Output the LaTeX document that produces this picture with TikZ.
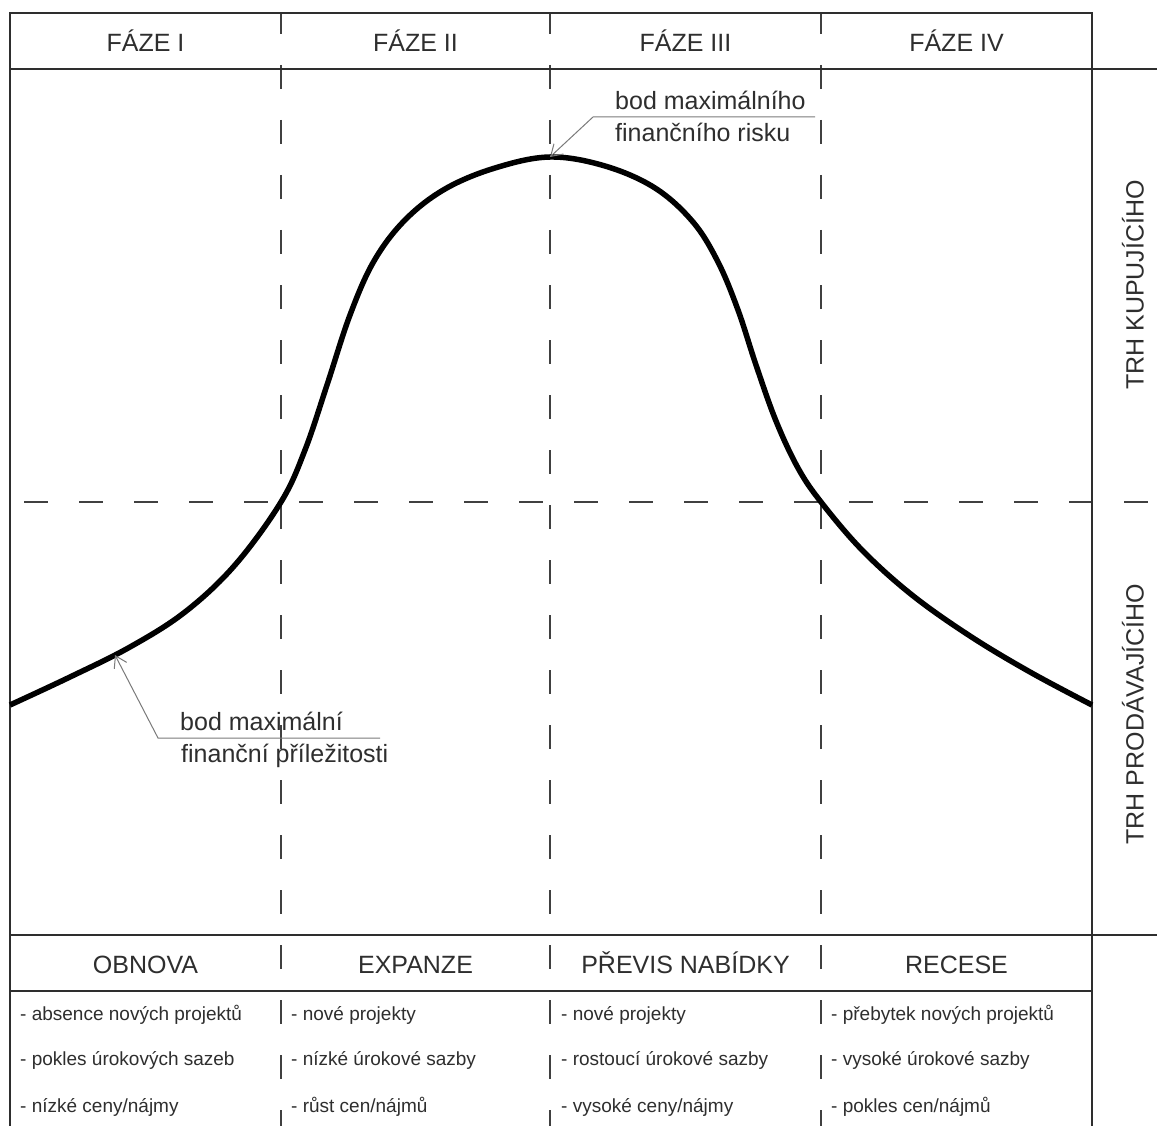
\documentclass[tikz,border=0pt]{standalone}
\usepackage{fontspec}
\setmainfont{Liberation Sans}
\usetikzlibrary{arrows.meta}
\definecolor{ink}{HTML}{2e2e2e}
\definecolor{dashc}{HTML}{404040}
\definecolor{leadc}{HTML}{7a7a7a}
\begin{document}
\begin{tikzpicture}[x=1pt,y=-1pt,
  frame/.style={draw=ink,line width=1.8pt},
  vdash/.style={draw=dashc,line width=1.6pt,dash pattern=on 24pt off 31pt,dash phase=3pt},
  hdash/.style={draw=dashc,line width=1.6pt,dash pattern=on 24pt off 31pt,dash phase=41pt},
  curve/.style={draw=black,line width=5.5pt,line join=round},
  lead/.style={draw=leadc,line width=1pt},
  big/.style={font=\fontsize{25}{30}\selectfont,text=ink,inner sep=0pt,anchor=base},
  side/.style={font=\fontsize{25}{30}\selectfont,text=ink,inner sep=0pt,rotate=90},
  item/.style={font=\fontsize{19}{22}\selectfont,text=ink,inner sep=0pt,anchor=base west},
  note/.style={font=\fontsize{25}{30}\selectfont,text=ink,inner sep=0pt,anchor=base west},
]
\useasboundingbox (0,0) rectangle (1157,1126);
\fill[white] (0,0) rectangle (1157,1126);

% dashed grid
\foreach \x in {281,550,821}{
  \draw[vdash] (\x,13) -- (\x,1126);
}
\draw[hdash] (10,502) -- (1157,502);

% frame
\draw[frame] (10,1126) -- (10,13) -- (1092,13) -- (1092,1126);
\draw[frame] (10,69) -- (1157,69);
\draw[frame] (10,935) -- (1157,935);
\draw[frame] (10,991) -- (1092,991);

% headers
\node[big] (f1) at (145.5,52) {FÁZE I};
\node[big] (f2) at (415.5,52) {FÁZE II};
\node[big] (f3) at (685.5,52) {FÁZE III};
\node[big] (f4) at (956.5,52) {FÁZE IV};

\node[big] (h1) at (145.5,973) {OBNOVA};
\node[big] (h2) at (415.5,973) {EXPANZE};
\node[big] (h3) at (685.5,973) {PŘEVIS NABÍDKY};
\node[big] (h4) at (956.5,973) {RECESE};

% lists
\node[item] (a1) at (20,1020) {- absence nových projektů};
\node[item] (a2) at (20,1065) {- pokles úrokových sazeb};
\node[item] (a3) at (20,1112) {- nízké ceny/nájmy};
\node[item] (b1) at (291,1020) {- nové projekty};
\node[item] (b2) at (291,1065) {- nízké úrokové sazby};
\node[item] (b3) at (291,1112) {- růst cen/nájmů};
\node[item] (c1) at (561,1020) {- nové projekty};
\node[item] (c2) at (561,1065) {- rostoucí úrokové sazby};
\node[item] (c3) at (561,1112) {- vysoké ceny/nájmy};
\node[item] (d1) at (831,1020) {- přebytek nových projektů};
\node[item] (d2) at (831,1065) {- vysoké úrokové sazby};
\node[item] (d3) at (831,1112) {- pokles cen/nájmů};

% side labels
\node[side] (s1) at (1133,285) {TRH KUPUJÍCÍHO};
\node[side] (s2) at (1133,714) {TRH PRODÁVAJÍCÍHO};

% curve
\draw[curve] plot[smooth,tension=0.6] coordinates {
 (10,705) (70,677) (130,647) (185,612) (235,565) (281,502)
 (305,450) (327,385) (350,315) (374,261) (405,220) (445,189) (495,168)
 (550,157) (605,166) (655,188) (693,222) (718,262) (738,310) (756,365)
 (776,421) (798,468) (821,502) (862,550) (912,595) (970,636) (1030,672)
 (1092,705)};

% annotations
\coordinate (p1) at (115,655);
\coordinate (k1) at (158,738);
\coordinate (e1) at (380,738);
\draw[lead,-{Straight Barb[length=11pt,width=14pt,line width=1pt]}] (e1) -- (k1) -- (p1);
\node[note] (n1a) at (180,730) {bod maximální};
\node[note] (n1b) at (181,762) {finanční příležitosti};

\coordinate (p2) at (550,157);
\coordinate (k2) at (593,117);
\coordinate (e2) at (815,117);
\draw[lead,-{Straight Barb[length=11pt,width=14pt,line width=1pt]}] (e2) -- (k2) -- (p2);
\node[note] (n2a) at (615,110) {bod maximálního};
\node[note] (n2b) at (615,142) {finančního risku};
\end{tikzpicture}
\end{document}
